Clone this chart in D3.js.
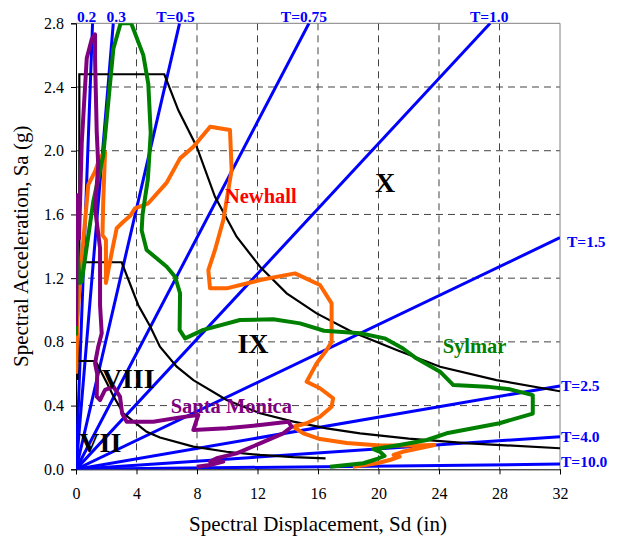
<!DOCTYPE html>
<html>
<head>
<meta charset="utf-8">
<script src="https://cdn.jsdelivr.net/npm/d3@7"></script>
<style>
  body { margin: 0; background: #fff; }
  svg text { font-family: "Liberation Serif", "Times New Roman", serif; }
</style>
</head>
<body>
<div id="chart"></div>
<script>
// Sa-Sd plot: demand spectra of three records against intensity zones

var width = 617;
var height = 539;

var xTicks = [0, 4, 8, 12, 16, 20, 24, 28, 32];
var yTicks = [0, 0.4, 0.8, 1.2, 1.6, 2.0, 2.4, 2.8];

// constant-period lines
var periods = [0.2, 0.3, 0.5, 0.75, 1.0, 1.5, 2.5, 4.0, 10.0];
var periodLabels = ["0.2", "0.3", "T=0.5", "T=0.75", "T=1.0", "T=1.5", "T=2.5", "T=4.0", "T=10.0"];

// zone boundaries [Sd (in), Sa (g)]
var zoneX = [[0.22, 1.3], [0.22, 2.48], [5.84, 2.48], [6.76, 2.255], [7.98, 2.025], [9.19, 1.711],
    [10.62, 1.46], [12.17, 1.272], [13.93, 1.105], [15.91, 0.979], [18.3, 0.86], [21.2, 0.749],
    [24.07, 0.644], [27.8, 0.56], [32, 0.49]];
var zoneIX = [[0.12, 0.68], [0.12, 1.3], [3.02, 1.3], [4.12, 1.03], [4.89, 0.9], [5.55, 0.77],
    [6.66, 0.644], [7.76, 0.56], [9.96, 0.435], [12.17, 0.352], [14.37, 0.299], [16.57, 0.257],
    [18.78, 0.226], [22, 0.193], [26, 0.163], [32, 0.132]];
var zoneVIII = [[0.1, 0.56], [0.1, 0.68], [1.3, 0.68], [2.0, 0.55], [2.47, 0.46], [3.13, 0.351],
    [4.67, 0.235], [5.55, 0.2], [7.76, 0.142], [9.96, 0.11], [12.17, 0.09], [14.37, 0.077], [16.5, 0.069]];
var zoneNames = ["VII", "VIII", "IX", "X"];

// demand spectra [Sd (in), Sa (g)]
var newhall = [[0, 0.6], [0.1, 0.94], [0.15, 1.03], [0.48, 1.43], [0.81, 1.785], [1.26, 1.87],
    [1.59, 1.96], [1.92, 1.99], [1.8, 1.68], [1.75, 1.47], [1.98, 1.44], [1.98, 1.17], [2.36, 1.36],
    [2.69, 1.513], [3.13, 1.554], [3.57, 1.59], [3.9, 1.638], [4.78, 1.67], [6.0, 1.8], [6.88, 1.952],
    [7.76, 2.025], [8.87, 2.151], [10.18, 2.13], [10.29, 1.879], [9.74, 1.565], [9.19, 1.377],
    [8.75, 1.251], [8.86, 1.136], [9.96, 1.136], [12.17, 1.188], [14.48, 1.23], [16.13, 1.157],
    [16.9, 1.042], [16.9, 0.8], [16.57, 0.749], [15.91, 0.665], [15.25, 0.55], [16.13, 0.509],
    [17.0, 0.446], [16.9, 0.393], [16.13, 0.33], [15.25, 0.289], [14.37, 0.267], [15.03, 0.226],
    [16.13, 0.19], [17.9, 0.165], [20.1, 0.15], [22.3, 0.15], [23.7, 0.153], [21.6, 0.11],
    [21.0, 0.09], [21.4, 0.079], [20.8, 0.06], [19.9, 0.038], [18.3, 0.016]];
var sylmar = [[0, 0.84], [0.03, 1.2], [0.06, 1.42], [0.15, 1.3], [0.25, 1.17], [0.38, 1.18],
    [1.14, 1.68], [1.8, 1.97], [2.47, 2.64], [2.95, 2.8], [3.65, 2.8], [4.45, 2.6], [4.78, 2.42],
    [4.94, 2.11], [4.75, 1.82], [4.4, 1.6], [4.34, 1.5], [4.67, 1.377], [6.0, 1.272], [6.55, 1.209],
    [6.88, 1.105], [6.85, 0.875], [7.21, 0.822], [8.42, 0.875], [10.84, 0.937], [13.04, 0.942],
    [14.81, 0.916], [16.4, 0.87], [18.8, 0.854], [20.4, 0.822], [21.6, 0.76], [22.5, 0.697],
    [24.07, 0.613], [24.95, 0.529], [27.15, 0.519], [28.7, 0.502], [30.2, 0.466], [30.2, 0.35],
    [28, 0.289], [24.5, 0.226], [23.2, 0.184], [21.4, 0.153], [19.66, 0.126], [20.1, 0.11],
    [20.4, 0.084], [19.85, 0.063], [19, 0.038], [16.8, 0.016]];
var santaMonica = [[0, 0.9], [0.04, 1.4], [0.1, 1.72], [0.2, 1.45], [0.38, 2.05], [0.71, 2.58],
    [1.04, 2.7], [1.26, 2.73], [1.26, 2.58], [1.37, 2.12], [1.47, 1.91], [1.26, 1.64], [1.37, 1.554],
    [1.59, 1.387], [1.59, 1.03], [1.7, 0.854], [1.47, 0.77], [1.26, 0.665], [1.4, 0.6], [1.37, 0.456],
    [1.59, 0.435], [1.92, 0.498], [2.47, 0.519], [2.91, 0.456], [3.05, 0.35], [3.35, 0.299],
    [5.11, 0.299], [6.88, 0.326], [8.09, 0.341], [7.76, 0.247], [9.96, 0.257], [12.17, 0.278],
    [14.04, 0.299], [14.26, 0.267], [13.7, 0.226], [12.17, 0.163], [10.62, 0.1], [9.3, 0.069],
    [8.86, 0.048], [9.74, 0.048], [8.86, 0.027], [7.98, 0.016]];

var plot = {left: 76, right: 560, top: 23.3, bottom: 469.3};

var x = d3.scaleLinear().domain([0, 32]).range([plot.left, plot.right]);
var y = d3.scaleLinear().domain([0, 2.8]).range([plot.bottom, plot.top]);

var svg = d3.select("#chart").append("svg")
    .attr("width", width)
    .attr("height", height);

svg.append("defs").append("clipPath")
    .attr("id", "clip")
    .append("rect")
    .attr("x", plot.left)
    .attr("y", plot.top)
    .attr("width", plot.right - plot.left)
    .attr("height", plot.bottom - plot.top);

// dashed grid
svg.append("g").selectAll("line")
    .data(xTicks.slice(1, -1))
    .enter().append("line")
    .attr("x1", d => x(d)).attr("x2", d => x(d))
    .attr("y1", plot.top).attr("y2", plot.bottom)
    .attr("stroke", "#444").attr("stroke-dasharray", "7,5");
svg.append("g").selectAll("line")
    .data(yTicks.slice(1, -1))
    .enter().append("line")
    .attr("y1", d => y(d)).attr("y2", d => y(d))
    .attr("x1", plot.left).attr("x2", plot.right)
    .attr("stroke", "#444").attr("stroke-dasharray", "7,5");

// top/right frame
svg.append("path")
    .attr("d", "M" + plot.left + "," + plot.top + "H" + plot.right + "V" + plot.bottom)
    .attr("fill", "none").attr("stroke", "#808080");

// axes
var xAxis = svg.append("g")
    .attr("transform", "translate(0," + plot.bottom + ")")
    .call(d3.axisBottom(x).tickValues(xTicks).tickFormat(d3.format("d")).tickSize(5).tickPadding(13));
var yAxis = svg.append("g")
    .attr("transform", "translate(" + plot.left + ",0)")
    .call(d3.axisLeft(y).tickValues(yTicks).tickFormat(d3.format(".1f")).tickSize(5).tickPadding(7));
[xAxis, yAxis].forEach(function(a) {
    a.selectAll("text").attr("font-size", "16px").attr("fill", "#000")
        .style("font-family", "'Liberation Serif', 'Times New Roman', serif");
    a.selectAll("line, path").attr("stroke", "#000");
});

svg.append("text")
    .attr("x", (plot.left + plot.right) / 2)
    .attr("y", 531)
    .attr("text-anchor", "middle")
    .attr("font-size", "21px")
    .text("Spectral Displacement, Sd (in)");
svg.append("text")
    .attr("transform", "translate(28," + (plot.top + plot.bottom) / 2 + ") rotate(-90)")
    .attr("text-anchor", "middle")
    .attr("font-size", "21px")
    .text("Spectral Acceleration, Sa (g)");

var inner = svg.append("g").attr("clip-path", "url(#clip)");
var line = d3.line().x(d => x(d[0])).y(d => y(d[1]));

// Sa = (2pi/T)^2 Sd / g, g = 386.1 in/s^2
function slope(T) { return 4 * Math.PI * Math.PI / (T * T * 386.1); }
function lineEnd(T) {
    var sd = Math.min(32, 2.8 / slope(T));
    return [sd, slope(T) * sd];
}

inner.selectAll(".period")
    .data(periods)
    .enter().append("path")
    .attr("class", "period")
    .attr("d", T => line([[0, 0], lineEnd(T)]))
    .attr("fill", "none")
    .attr("stroke", "#0000ff")
    .attr("stroke-width", 3);

// zone boundaries
[zoneX, zoneIX, zoneVIII].forEach(function(z) {
    inner.append("path")
        .datum(z)
        .attr("d", line)
        .attr("fill", "none")
        .attr("stroke", "#000")
        .attr("stroke-width", 2.2);
});

// spectra
[[newhall, "#ff6600"], [sylmar, "#008000"], [santaMonica, "#800080"]].forEach(function(s) {
    inner.append("path")
        .datum(s[0])
        .attr("d", line)
        .attr("fill", "none")
        .attr("stroke", s[1])
        .attr("stroke-width", 4)
        .attr("stroke-linejoin", "round");
});

// period labels: top ones centred over the line end, right ones beside it
var topNudge = {"0.2": -6, "0.3": 3, "T=0.5": -4, "T=0.75": -5, "T=1.0": -1};
var rightNudge = {"T=1.5": [6, 4], "T=2.5": [0, 0], "T=4.0": [0, 0], "T=10.0": [0, -3]};
periods.forEach(function(T, i) {
    var e = lineEnd(T);
    var lab = periodLabels[i];
    var t = svg.append("text")
        .attr("font-size", "15.5px")
        .attr("font-weight", "bold")
        .attr("fill", "#0000ff")
        .text(lab);
    if (e[0] < 32) {
        t.attr("x", x(e[0]) + topNudge[lab]).attr("y", plot.top - 1.5).attr("text-anchor", "middle");
    } else {
        t.attr("x", x(e[0]) + 1 + rightNudge[lab][0]).attr("y", y(e[1]) + rightNudge[lab][1])
            .attr("dy", "0.35em");
    }
});

// zone names
var zoneSpots = [[0.22, 0.11, "start"], [1.7, 0.51, "start"], [11.7, 0.73, "middle"], [20.43, 1.743, "middle"]];
zoneNames.forEach(function(n, i) {
    svg.append("text")
        .attr("x", x(zoneSpots[i][0]))
        .attr("y", y(zoneSpots[i][1]))
        .attr("text-anchor", zoneSpots[i][2])
        .attr("font-size", "28px")
        .attr("font-weight", "bold")
        .text(n);
});

// record names
[["Newhall", 9.85, 1.67, "#ff0000"], ["Sylmar", 24.24, 0.728, "#008000"],
 ["Santa Monica", 6.26, 0.352, "#800080"]].forEach(function(r) {
    svg.append("text")
        .attr("x", x(r[1]))
        .attr("y", y(r[2]))
        .attr("font-size", "20.5px")
        .attr("font-weight", "bold")
        .attr("fill", r[3])
        .text(r[0]);
});
</script>
</body>
</html>
